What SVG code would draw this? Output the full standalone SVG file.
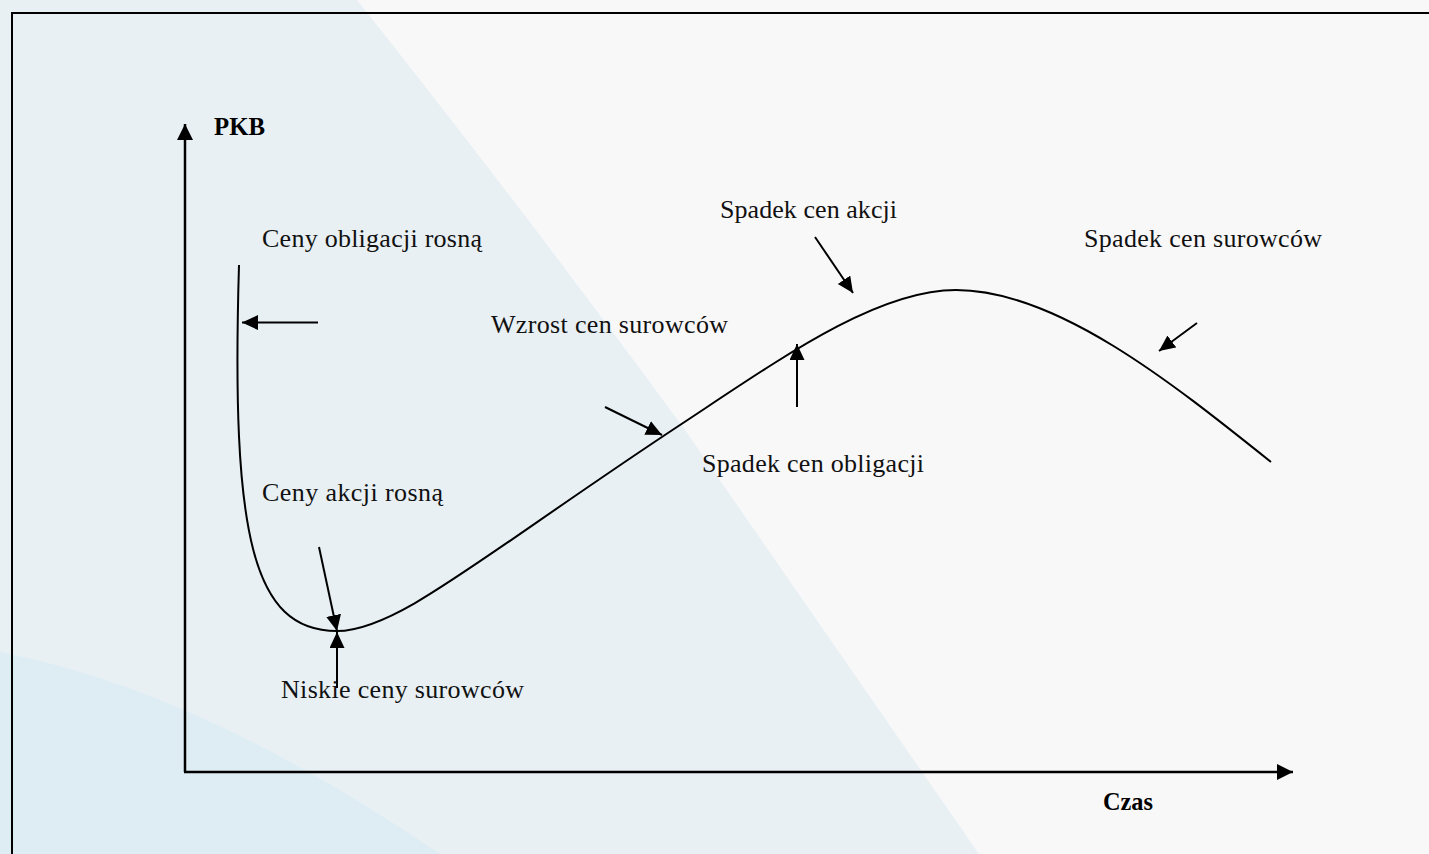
<svg xmlns="http://www.w3.org/2000/svg" width="1429" height="854" viewBox="0 0 1429 854">
<defs>
<marker id="ah" markerUnits="userSpaceOnUse" markerWidth="18" markerHeight="16" refX="16" refY="7.5" orient="auto">
<path d="M0,0 L16,7.5 L0,15 Z" fill="#000"/>
</marker>
<marker id="axh" markerUnits="userSpaceOnUse" markerWidth="18" markerHeight="18" refX="16" refY="8" orient="auto">
<path d="M0,0 L16,8 L0,16 Z" fill="#000"/>
</marker>
</defs>
<style>
.lbl{font-family:"Liberation Serif","Times New Roman",serif;font-size:26px;fill:#111}
.ax{font-family:"Liberation Serif","Times New Roman",serif;font-size:26px;font-weight:bold;fill:#000}
.arr{stroke:#000;stroke-width:2;fill:none;marker-end:url(#ah)}
.axis{stroke:#000;stroke-width:2.5;fill:none;marker-end:url(#axh)}
</style>
<g id="background">
<rect x="0" y="0" width="1429" height="854" fill="#f9f8f9"/>
<path d="M0,0 L357,0 Q520,205 683,427 L979,854 L0,854 Z" fill="#e8f0f4"/>
<path d="M0,652 Q200,690 440,854 L0,854 Z" fill="#deedf4"/>
<rect x="12" y="13" width="1440" height="860" fill="none" stroke="#000" stroke-width="2"/>
</g>
<g id="axes">
<line class="axis" x1="185" y1="772" x2="185" y2="124"/>
<line class="axis" x1="184" y1="772" x2="1293" y2="772"/>
<text class="ax" x="214" y="135" textLength="51" lengthAdjust="spacingAndGlyphs">PKB</text>
<text class="ax" x="1103" y="810" textLength="50" lengthAdjust="spacingAndGlyphs">Czas</text>
</g>
<g id="curve">
<path d="M239,265 C231,535 252,631 337,631 C397,631 480,557 680,425 C780,359 876,290 956,290 C1056,290 1171,382 1271,462" fill="none" stroke="#000" stroke-width="2"/>
</g>
<g id="connectors">
<line class="arr" x1="318" y1="322.5" x2="242" y2="322.5"/>
<line class="arr" x1="605" y1="407" x2="662" y2="435"/>
<line class="arr" x1="319" y1="547" x2="337" y2="631"/>
<line class="arr" x1="337" y1="688" x2="337" y2="632"/>
<line class="arr" x1="797" y1="407" x2="797" y2="344"/>
<line class="arr" x1="815" y1="237" x2="853" y2="293"/>
<line class="arr" x1="1197" y1="323" x2="1159" y2="351"/>
</g>
<g id="label-obligacje-rosna"><text class="lbl" x="262" y="247" textLength="220" lengthAdjust="spacing">Ceny obligacji rosną</text></g>
<g id="label-wzrost-surowcow"><text class="lbl" x="491" y="333" textLength="237" lengthAdjust="spacing">Wzrost cen surowców</text></g>
<g id="label-spadek-akcji"><text class="lbl" x="720" y="218" textLength="177" lengthAdjust="spacing">Spadek cen akcji</text></g>
<g id="label-spadek-surowcow"><text class="lbl" x="1084" y="247" textLength="238" lengthAdjust="spacing">Spadek cen surowców</text></g>
<g id="label-spadek-obligacji"><text class="lbl" x="702" y="472" textLength="222" lengthAdjust="spacing">Spadek cen obligacji</text></g>
<g id="label-akcje-rosna"><text class="lbl" x="262" y="501" textLength="181" lengthAdjust="spacing">Ceny akcji rosną</text></g>
<g id="label-niskie-surowce"><text class="lbl" x="281" y="698" textLength="243" lengthAdjust="spacing">Niskie ceny surowców</text></g>
</svg>
